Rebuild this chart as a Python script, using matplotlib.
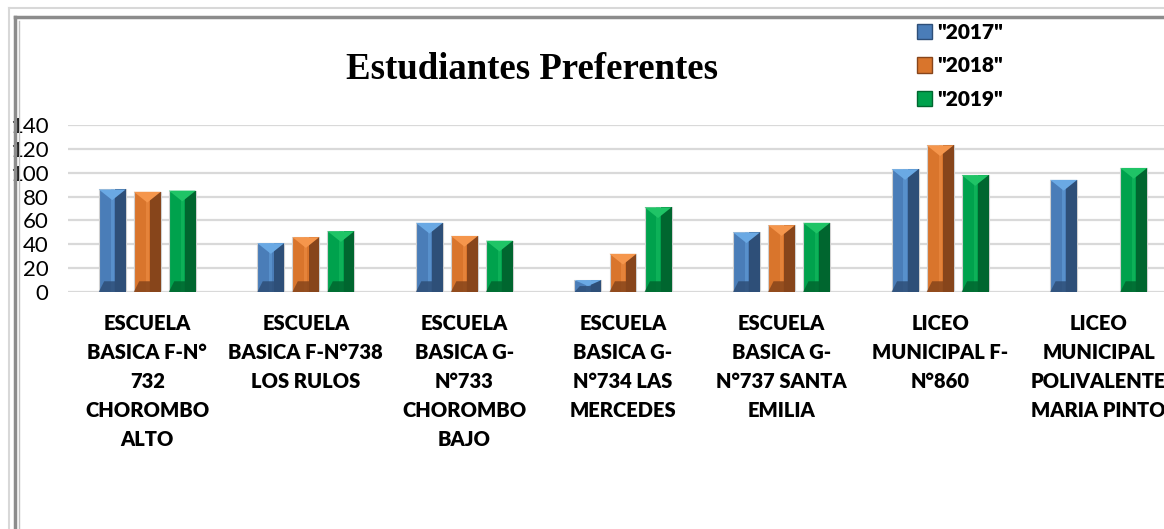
import numpy as np
import matplotlib
matplotlib.use("Agg")
import matplotlib.pyplot as plt
from matplotlib.patches import Patch
from matplotlib.lines import Line2D

categorias = [
    "ESCUELA\nBASICA F-N°\n732\nCHOROMBO\nALTO",
    "ESCUELA\nBASICA F-N°738\nLOS RULOS",
    "ESCUELA\nBASICA G-\nN°733\nCHOROMBO\nBAJO",
    "ESCUELA\nBASICA G-\nN°734 LAS\nMERCEDES",
    "ESCUELA\nBASICA G-\nN°737 SANTA\nEMILIA",
    "LICEO\nMUNICIPAL F-\nN°860",
    "LICEO\nMUNICIPAL\nPOLIVALENTE\nMARIA PINTO",
]
v2017 = [86, 41, 58, 10, 50, 103, 94]
v2018 = [84, 46, 47, 32, 56, 123, 0]
v2019 = [85, 51, 43, 71, 58, 98, 104]
series = ['"2017"', '"2018"', '"2019"']
yticks = [0, 20, 40, 60, 80, 100, 120, 140]

# color medio, oscuro, claro
colores = [("#4a7db8", "#2e4f78", "#6aa9e4"),
           ("#d9752c", "#87451b", "#f5964c"),
           ("#00a24d", "#00662f", "#1fc466")]

fig = plt.figure(figsize=(11.64, 5.29), dpi=100)
ax = fig.add_axes([68/1164, 1-292/529, 1110/1164, 167/529])

x = np.arange(len(categorias))
paso = 0.221
ancho = 0.17
for i, vals in enumerate([v2017, v2018, v2019]):
    med, osc, cla = colores[i]
    pos = x + (i - 1) * paso
    vals = np.array(vals)
    ax.bar(pos, vals, ancho, color=med, edgecolor="#d0d0d0", linewidth=0.8, zorder=3)
    # parte derecha oscura (bisel)
    ax.bar(pos + ancho*0.3, vals, ancho*0.4, color=osc, linewidth=0, zorder=3.1)
    # franja central clara
    ax.bar(pos, vals, ancho*0.12, color=cla, alpha=0.45, linewidth=0, zorder=3.2)
    # triangulos de tope y base
    for p, v in zip(pos, vals):
        if v <= 0:
            continue
        d = min(9, v / 2)
        ax.fill([p - ancho/2, p + ancho/2, p], [v, v, v - d], color=cla, lw=0, zorder=3.3)
        ax.fill([p - ancho/2, p + ancho/2, p + ancho*0.3, p - ancho*0.3],
                [0, 0, d, d], color=osc, alpha=0.85, lw=0, zorder=3.3)

ax.set_xlim(-0.5, len(categorias) - 0.5)
ax.set_ylim(0, 140)
ax.set_yticks(yticks)
ax.set_yticklabels([str(t) for t in yticks], fontfamily="Lato", fontsize=16)
ax.set_xticks(x)
ax.set_xticklabels(categorias, fontfamily="Lato", fontweight="heavy", fontsize=14.5,
                   linespacing=1.62, va="top")
ax.tick_params(axis="y", length=0, pad=14)
ax.tick_params(axis="x", length=0, pad=16)
ax.grid(axis="y", color="#d9d9d9", linewidth=1.6, zorder=0)
ax.set_axisbelow(True)
for s in ax.spines.values():
    s.set_visible(False)

fig.text(0.457, 1-70/529, "Estudiantes Preferentes", family="Liberation Serif",
         fontweight="bold", fontsize=26.5, ha="center", va="center")

handles = [Patch(facecolor=c[0], edgecolor=c[1]) for c in colores]
fig.legend(handles, series, loc="upper left", bbox_to_anchor=(898/1164, 1-4/529),
           frameon=False, prop={"family": "Lato", "weight": "heavy", "size": 15},
           handlelength=0.75, handleheight=0.75, handletextpad=0.25, labelspacing=0.7)

# marco del grafico
fig.add_artist(Line2D([9/1164, 9/1164], [0, 1-8/529], color="#d8d8d8", lw=1.5))
fig.add_artist(Line2D([9/1164, 1], [1-8/529, 1-8/529], color="#d8d8d8", lw=1.5))
fig.add_artist(Line2D([15/1164, 15/1164], [0, 1-17/529], color="#8c8c8c", lw=2.5))
fig.add_artist(Line2D([15/1164, 1], [1-17/529, 1-17/529], color="#8c8c8c", lw=2.5))
fig.add_artist(Line2D([19/1164, 19/1164], [0, 1-21/529], color="#c0c0c0", lw=1))

fig.savefig("out.png", dpi=100)
